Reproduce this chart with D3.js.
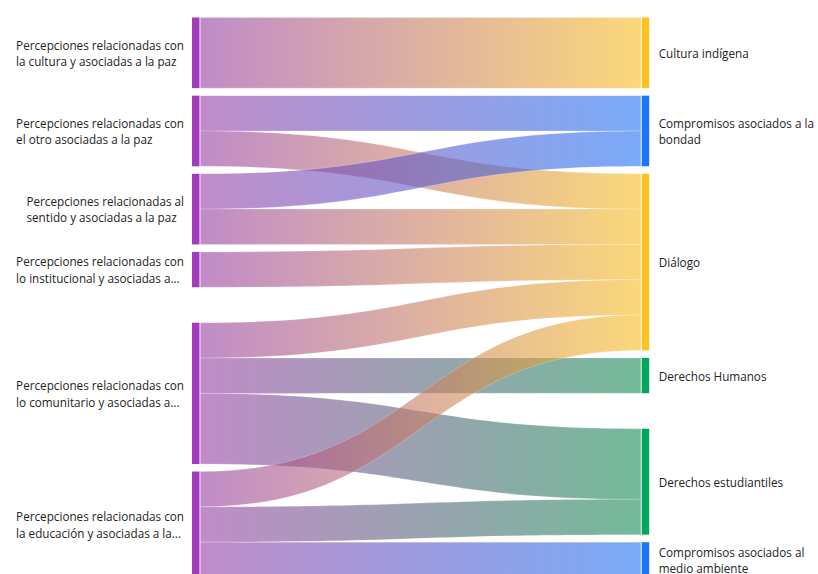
<!DOCTYPE html>
<html>
<head>
<meta charset="utf-8">
<script src="https://cdn.jsdelivr.net/npm/d3@7/dist/d3.min.js"></script>
<style>
  html, body { margin: 0; padding: 0; background: #fff; overflow: hidden; }
  svg { display: block; }
</style>
</head>
<body>
<svg id="chart" width="818" height="574"></svg>
<script>
// ---------------- DATA ----------------
const sources = [
  "Percepciones relacionadas con la cultura y asociadas a la paz",
  "Percepciones relacionadas con el otro asociadas a la paz",
  "Percepciones relacionadas al sentido y asociadas a la paz",
  "Percepciones relacionadas con lo institucional y asociadas a...",
  "Percepciones relacionadas con lo comunitario y asociadas a...",
  "Percepciones relacionadas con la educación y asociadas a la..."
];
const targets = [
  "Cultura indígena",
  "Compromisos asociados a la bondad",
  "Diálogo",
  "Derechos Humanos",
  "Derechos estudiantiles",
  "Compromisos asociados al medio ambiente"
];
const linkSource = [0, 1, 1, 2, 2, 3, 4, 4, 4, 5, 5, 5];
const linkTarget = [0, 1, 2, 1, 2, 2, 2, 3, 4, 2, 4, 5];
const linkValue  = [2, 1, 1, 1, 1, 1, 1, 1, 2, 1, 1, 1];

// node colours
const sourceColor = "#a23cbb";
const targetColors = ["#ffc21e", "#1b75f7", "#ffc21e", "#00a65b", "#00a65b", "#1b75f7"];
// link colours (drawn translucent)
const linkSourceColor = "#963fa3";
const linkTargetColors = ["#f8bc21", "#2071f3", "#f8bc21", "#168b55", "#168b55", "#2071f3"];

// ---------------- LAYOUT ----------------
const topY = 17.5, chartH = 560;
const nodePad = 7.5, extraGap = 28, gapIndex = 4;
const nodeW = 7.5;
const leftX = 192, rightX = 641.7;
const fontFamily = "'Open Sans', 'Noto Sans', sans-serif";
const textColor = "#252423";

const links = linkValue.map((v, i) => ({ s: linkSource[i], t: linkTarget[i], value: v, i }));
const srcTotals = sources.map((_, i) => d3.sum(links.filter(l => l.s === i), l => l.value));
const tgtTotals = targets.map((_, i) => d3.sum(links.filter(l => l.t === i), l => l.value));
const grand = d3.sum(linkValue);
const unitsH = chartH - (sources.length - 1) * nodePad - extraGap;
const y = d3.scaleLinear().domain([0, grand]).range([0, unitsH]);

function stack(totals, x, color) {
  let cur = topY;
  return totals.map((v, i) => {
    if (i === gapIndex) cur += extraGap;
    const n = { i, x0: x, x1: x + nodeW, y0: cur, y1: cur + y(v), value: v, color: typeof color === "function" ? color(i) : color };
    cur = n.y1 + nodePad;
    return n;
  });
}
const sNodes = stack(srcTotals, leftX, sourceColor);
const tNodes = stack(tgtTotals, rightX, i => targetColors[i]);

sNodes.forEach(n => {
  let c = n.y0;
  links.filter(l => l.s === n.i).sort((a, b) => a.t - b.t).forEach(l => { l.sy0 = c; c += y(l.value); l.sy1 = c; });
});
tNodes.forEach(n => {
  let c = n.y0;
  links.filter(l => l.t === n.i).sort((a, b) => a.s - b.s).forEach(l => { l.ty0 = c; c += y(l.value); l.ty1 = c; });
});

const svg = d3.select("#chart");
const defs = svg.append("defs");

const lx0 = leftX + nodeW + 0.8, lx1 = rightX - 0.8;
const xm = d3.interpolateNumber(lx0, lx1)(0.5);

links.forEach(l => {
  const g = defs.append("linearGradient")
    .attr("id", "grad" + l.i)
    .attr("gradientUnits", "userSpaceOnUse")
    .attr("x1", lx0).attr("x2", lx1).attr("y1", 0).attr("y2", 0);
  g.append("stop").attr("offset", "0%").attr("stop-color", linkSourceColor);
  g.append("stop").attr("offset", "100%").attr("stop-color", linkTargetColors[l.t]);
});

function ribbon(l) {
  const p = d3.path();
  p.moveTo(lx0, l.sy0);
  p.bezierCurveTo(xm, l.sy0, xm, l.ty0, lx1, l.ty0);
  p.lineTo(lx1, l.ty1);
  p.bezierCurveTo(xm, l.ty1, xm, l.sy1, lx0, l.sy1);
  p.closePath();
  return p.toString();
}

svg.append("g").selectAll("path").data(links).join("path")
  .attr("d", ribbon)
  .attr("fill", l => `url(#grad${l.i})`)
  .attr("fill-opacity", 0.6)
  .attr("stroke", "#ffffff")
  .attr("stroke-opacity", 0.35)
  .attr("stroke-width", 0.6);

const nodeG = svg.append("g");
nodeG.selectAll("rect.s").data(sNodes).join("rect").attr("class", "s")
  .attr("x", d => d.x0).attr("y", d => d.y0)
  .attr("width", nodeW).attr("height", d => d.y1 - d.y0)
  .attr("fill", d => d.color);
nodeG.selectAll("rect.t").data(tNodes).join("rect").attr("class", "t")
  .attr("x", d => d.x0).attr("y", d => d.y0)
  .attr("width", nodeW).attr("height", d => d.y1 - d.y0)
  .attr("fill", d => d.color);

// ---------------- LABELS ----------------
const lineH = 16.5;
const measurer = svg.append("text").attr("font-family", fontFamily).attr("font-size", 11).attr("visibility", "hidden");
measurer.text("Percepciones relacionadas con");
const fontSize = 11 * 168 / measurer.node().getComputedTextLength();
measurer.attr("font-size", fontSize);
function width(s) { measurer.text(s); return measurer.node().getComputedTextLength(); }
function wrap(text, maxW) {
  const words = text.split(" ");
  const lines = [];
  let line = "";
  words.forEach(w => {
    const test = line ? line + " " + w : w;
    if (width(test) <= maxW || !line) line = test;
    else { lines.push(line); line = w; }
  });
  if (line) lines.push(line);
  return lines;
}

function drawLabel(node, text, side) {
  const maxW = side === "left" ? 172 : 160;
  const lines = wrap(text, maxW);
  const cy = (node.y0 + node.y1) / 2 + 1;
  const blockW = d3.max(lines, width);
  const x = side === "left" ? node.x0 - 8 - blockW : node.x1 + 9.5;
  const t = svg.append("text")
    .attr("font-family", fontFamily)
    .attr("font-size", fontSize)
    .attr("fill", textColor)
    .attr("text-anchor", "start");
  const startY = cy - (lines.length - 1) * lineH / 2;
  lines.forEach((ln, k) => {
    t.append("tspan").attr("x", x).attr("y", startY + k * lineH).attr("dy", "0.35em").text(ln);
  });
}
sNodes.forEach((n, i) => drawLabel(n, sources[i], "left"));
tNodes.forEach((n, i) => drawLabel(n, targets[i], "right"));
measurer.remove();
</script>
</body>
</html>
